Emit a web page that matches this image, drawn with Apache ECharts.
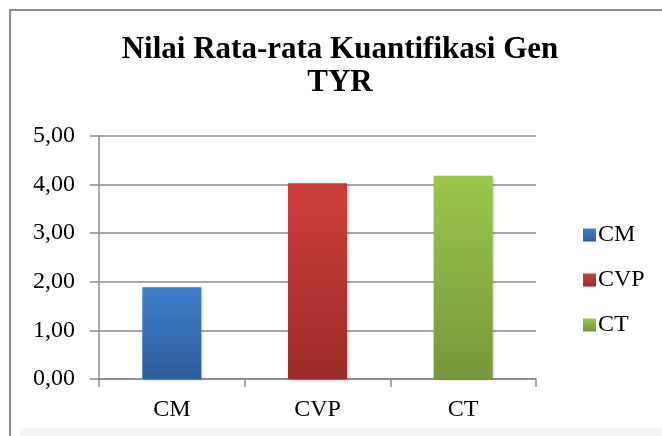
<!DOCTYPE html>
<html>
<head>
<meta charset="utf-8">
<script src="https://cdn.jsdelivr.net/npm/echarts@6/dist/echarts.min.js"></script>
<style>
html,body{margin:0;padding:0;background:#fff;}
#chart{width:662px;height:436px;}
</style>
</head>
<body>
<div id="chart"></div>
<script>
var titleText = 'Nilai Rata-rata Kuantifikasi Gen\nTYR';
var categories = ['CM', 'CVP', 'CT'];
var seriesNames = ['CM', 'CVP', 'CT'];
var values = [1.89, 4.03, 4.18];
var yTicks = [0, 1, 2, 3, 4, 5];
var topColors = ['#3f7fcc', '#cd3e3b', '#9cc64b'];
var bottomColors = ['#2c5d98', '#9a2c29', '#76963a'];

var FONT = '"Liberation Serif","Times New Roman",serif';
var chart = echarts.init(document.getElementById('chart'), null, {renderer: 'canvas'});

var series = seriesNames.map(function (name, i) {
  var data = categories.map(function (c, j) { return j === i ? values[i] : '-'; });
  return {
    name: name,
    type: 'bar',
    stack: 'all',
    barWidth: 59,
    data: data,
    itemStyle: {
      color: new echarts.graphic.LinearGradient(0, 0, 0, 1, [
        {offset: 0, color: topColors[i]},
        {offset: 1, color: bottomColors[i]}
      ]),
      shadowColor: 'rgba(0,0,0,0.25)',
      shadowBlur: 3,
      shadowOffsetX: 1,
      shadowOffsetY: 1
    }
  };
});

chart.setOption({
  animation: false,
  backgroundColor: '#ffffff',
  title: {
    text: titleText,
    left: 340,
    top: 33,
    padding: 0,
    textAlign: 'center',
    textStyle: {fontFamily: FONT, fontWeight: 'bold', fontSize: 31, lineHeight: 33, color: '#000'}
  },
  legend: {
    orient: 'vertical',
    left: 578,
    top: 218,
    itemWidth: 13,
    itemHeight: 13,
    itemGap: 21,
    icon: 'rect',
    data: seriesNames,
    textStyle: {fontFamily: FONT, fontSize: 24, color: '#000', padding: [0, 0, 0, -3]}
  },
  grid: {left: 99, right: 126, top: 136, bottom: 57, containLabel: false},
  xAxis: {
    type: 'category',
    data: categories,
    axisLine: {lineStyle: {color: '#8a8a8a', width: 1.5}},
    axisTick: {show: true, length: 8, lineStyle: {color: '#8a8a8a', width: 1.5}},
    axisLabel: {fontFamily: FONT, fontSize: 24, color: '#000', margin: 19}
  },
  yAxis: {
    type: 'value',
    min: yTicks[0],
    max: yTicks[yTicks.length - 1],
    interval: 1,
    axisLine: {show: true, lineStyle: {color: '#8a8a8a', width: 1.5}},
    axisTick: {show: true, length: 9, lineStyle: {color: '#8a8a8a', width: 1.5}},
    splitLine: {lineStyle: {color: '#8a8a8a', width: 1.5}},
    axisLabel: {
      fontFamily: FONT, fontSize: 24, color: '#000', margin: 24,
      formatter: function (v) { return v.toFixed(2).replace('.', ','); }
    }
  },
  graphic: [
    {type: 'rect', silent: true, z: -10,
     shape: {x: 20, y: 428, width: 700, height: 40, r: 8},
     style: {fill: '#f5f5f5'}},
    {type: 'rect', silent: true, z: 100,
     shape: {x: 10, y: 10, width: 700, height: 460},
     style: {fill: 'none', stroke: '#8c8c8c', lineWidth: 2}}
  ],
  series: series
});
</script>
</body>
</html>
